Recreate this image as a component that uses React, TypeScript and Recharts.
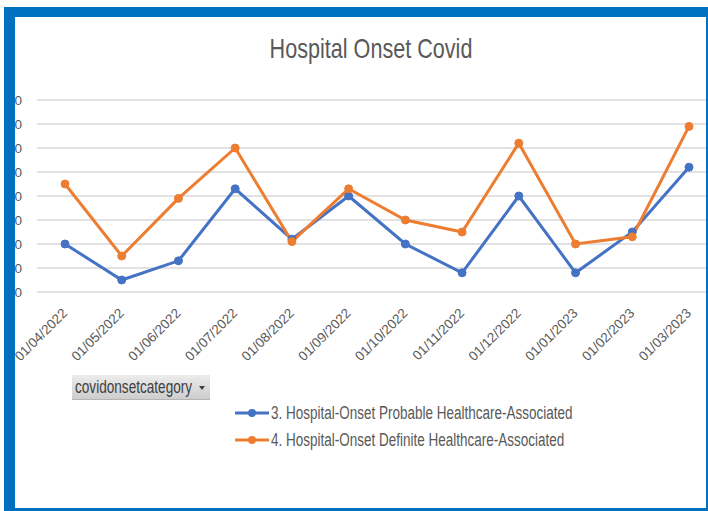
import React from 'react';
import { LineChart, Line, XAxis, YAxis, CartesianGrid, Legend } from 'recharts';

const MONTHS = [
  '01/04/2022', '01/05/2022', '01/06/2022', '01/07/2022', '01/08/2022', '01/09/2022',
  '01/10/2022', '01/11/2022', '01/12/2022', '01/01/2023', '01/02/2023', '01/03/2023'
];

// 3. Hospital-Onset Probable Healthcare-Associated
const PROBABLE = [20, 5, 13, 43, 22, 40, 20, 8, 40, 8, 25, 52];

// 4. Hospital-Onset Definite Healthcare-Associated
const DEFINITE = [45, 15, 39, 60, 21, 43, 30, 25, 62, 20, 23, 69];

const Y_TICKS = [0, 10, 20, 30, 40, 50, 60, 70, 80];

const BLUE = '#4472C4';
const ORANGE = '#ED7D31';
const TEXT = '#595959';
const FONT = "'Liberation Sans', Arial, sans-serif";

const renderXTick = ({ x, y, payload }: any) => (
  <g transform={`translate(${x + 3},${y + 22}) rotate(-45)`}>
    <text x={0} y={0} textAnchor="end" fontSize={13.5} fill={TEXT} fontFamily={FONT}>
      {payload.value}
    </text>
  </g>
);

const renderYTick = ({ x, y, payload }: any) => (
  <text x={x} y={y} dy="0.36em" textAnchor="end" fontSize={13.5} fill={TEXT} fontFamily={FONT}>
    {payload.value}
  </text>
);

const renderLegend = ({ payload }: any) => (
  <div>
    {(payload || []).map((entry: any, i: number) => (
      <svg key={`leg-${i}`} width={360} height={27} style={{ display: 'block' }}>
        <line x1={2} y1={13} x2={36} y2={13} stroke={entry.color} strokeWidth={3} />
        <circle cx={19} cy={13} r={4} fill={entry.color} />
        <g transform="translate(38,19) scale(1,1.32)">
          <text x={0} y={0} fontSize={13.5} fill={TEXT} fontFamily={FONT}>
            {entry.value}
          </text>
        </g>
      </svg>
    ))}
  </div>
);

export default function App() {
  const data = MONTHS.map((month, i) => ({
    month,
    probable: PROBABLE[i],
    definite: DEFINITE[i]
  }));

  return (
    <div
      style={{
        position: 'absolute',
        left: 0,
        top: 0,
        width: 708,
        height: 511,
        overflow: 'hidden',
        background: '#ffffff',
        fontFamily: FONT
      }}
    >
      <LineChart
        width={730}
        height={511}
        data={data}
        margin={{ top: 100, right: 13, bottom: 159, left: 7 }}
      >
        <CartesianGrid vertical={false} stroke="#d9d9d9" strokeWidth={1.5} />
        <XAxis
          dataKey="month"
          interval={0}
          tickLine={false}
          axisLine={false}
          tickSize={0}
          tickMargin={0}
          height={60}
          padding={{ left: 28, right: 28 }}
          tick={renderXTick}
        />
        <YAxis
          width={30}
          domain={[0, 80]}
          ticks={Y_TICKS}
          interval={0}
          tickLine={false}
          axisLine={false}
          tickSize={0}
          tickMargin={15}
          tick={renderYTick}
        />
        <Legend
          layout="vertical"
          align="center"
          verticalAlign="middle"
          content={renderLegend}
          wrapperStyle={{ left: 233, top: 400, width: 360, height: 54 }}
        />
        <Line
          type="linear"
          dataKey="probable"
          name="3. Hospital-Onset Probable Healthcare-Associated"
          stroke={BLUE}
          strokeWidth={3}
          dot={{ r: 4, fill: BLUE, stroke: BLUE, strokeWidth: 1 }}
          isAnimationActive={false}
        />
        <Line
          type="linear"
          dataKey="definite"
          name="4. Hospital-Onset Definite Healthcare-Associated"
          stroke={ORANGE}
          strokeWidth={3}
          dot={{ r: 4, fill: ORANGE, stroke: ORANGE, strokeWidth: 1 }}
          isAnimationActive={false}
        />
      </LineChart>

      {/* title */}
      <svg
        width={708}
        height={80}
        style={{ position: 'absolute', left: 0, top: 0, pointerEvents: 'none' }}
      >
        <g transform="translate(371,58) scale(1,1.3)">
          <text x={0} y={0} textAnchor="middle" fontSize={21.6} fill={TEXT} fontFamily={FONT}>
            Hospital Onset Covid
          </text>
        </g>
      </svg>

      {/* pivot field button */}
      <div
        style={{
          position: 'absolute',
          left: 72,
          top: 375,
          width: 138,
          height: 25,
          boxSizing: 'border-box',
          background: 'linear-gradient(#ececec, #cdcdcd)',
          borderBottom: '1px solid #b5b5b5',
          overflow: 'hidden'
        }}
      >
        <svg width={138} height={25} style={{ display: 'block' }}>
          <g transform="translate(3,18) scale(1,1.3)">
            <text x={0} y={0} fontSize={13.6} fill="#404040" fontFamily={FONT}>
              covidonsetcategory
            </text>
          </g>
          <path d="M127 11 L133 11 L130 15 Z" fill="#404040" />
        </svg>
      </div>

      {/* blue frame */}
      <div
        style={{
          position: 'absolute',
          left: 4,
          top: 7,
          width: 704,
          height: 504,
          boxSizing: 'border-box',
          borderStyle: 'solid',
          borderColor: '#0070C0',
          borderWidth: '10px 2px 3px 11px',
          pointerEvents: 'none'
        }}
      />
    </div>
  );
}
